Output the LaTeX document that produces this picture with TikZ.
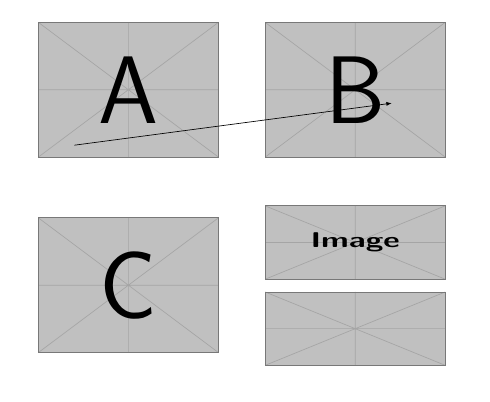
\documentclass[tikz,border=0pt]{standalone}
\usetikzlibrary{positioning, arrows.meta}
\definecolor{phfill}{RGB}{192,192,192}
\definecolor{phline}{RGB}{165,165,165}
\definecolor{phedge}{RGB}{120,120,120}
\tikzset{
  panel/.style={draw=phedge, fill=phfill, line width=0.6pt, inner sep=0pt,
    minimum width=135pt, minimum height=101pt,
    font=\sffamily\fontsize{72}{72}\selectfont,
    path picture={
      \draw [phline, line width=0.5pt]
        (path picture bounding box.north west) -- (path picture bounding box.south east)
        (path picture bounding box.south west) -- (path picture bounding box.north east)
        (path picture bounding box.north) -- (path picture bounding box.south)
        (path picture bounding box.west) -- (path picture bounding box.east);
    }},
  halfpanel/.style={panel, minimum height=55pt, font=\sffamily\bfseries\fontsize{16}{16}\selectfont},
}

\begin{document}
\begin{tikzpicture}[>={Latex[length=4pt,width=3pt]}]
  \node [panel] (A) {A};
  \node [panel, right=34.5pt of A] (B) {B};
  \node [panel, below=45pt of A] (C) {C};
  \node [halfpanel, below=36pt of B] (img) {\scalebox{1.5}[1]{Image}};
  \node [halfpanel, below=9pt of img] (blank) {};
  \useasboundingbox ([shift={(-28.5pt,16.5pt)}]A.north west) rectangle +(367.5pt,-301.5pt);
  \coordinate (start) at ([shift={(-40.5pt,-41.6pt)}]A.center);
  \coordinate (stop) at ([shift={(27.4pt,-10.1pt)}]B.center);
  \draw [->, line width=0.5pt] (start) -- (stop);
\end{tikzpicture}
\end{document}
